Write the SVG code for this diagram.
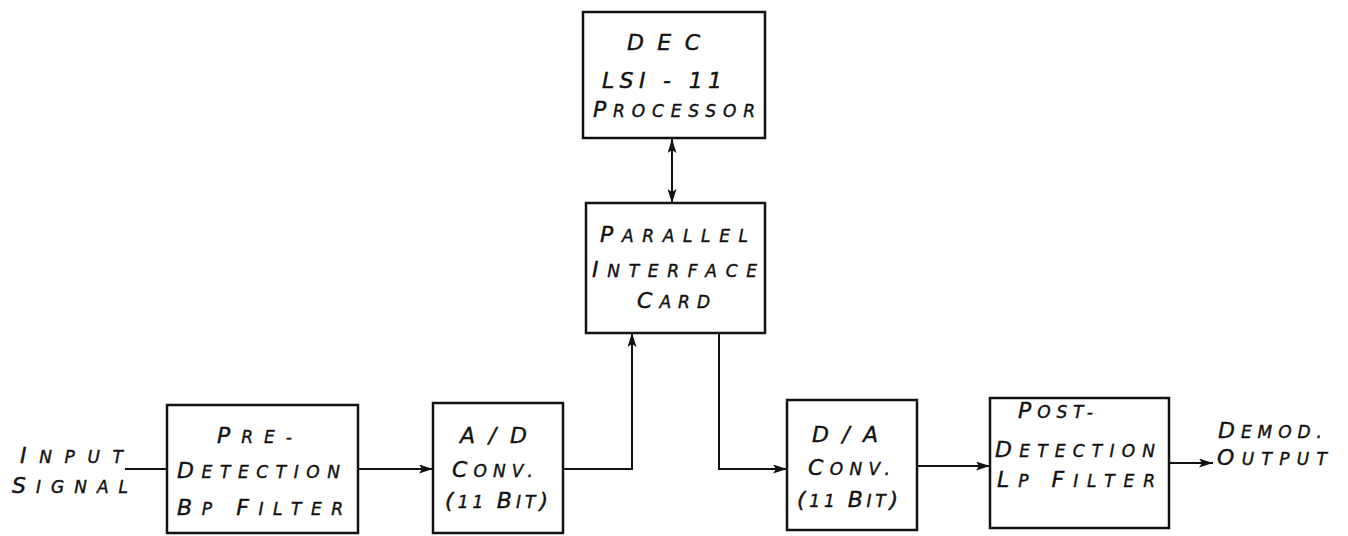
<svg xmlns="http://www.w3.org/2000/svg" width="1348" height="536" viewBox="0 0 1348 536">
<style>
.box{fill:#fff;stroke:#111;stroke-width:2.5}
.t{font-family:"DejaVu Sans","Liberation Sans",sans-serif;font-style:oblique;font-size:17px;fill:#111;stroke:#111;stroke-width:0.4}
.b{font-size:22px}
.c{fill:none;stroke:#111;stroke-width:2}
</style>
<defs>
<marker id="ah" markerUnits="userSpaceOnUse" markerWidth="14" markerHeight="9" refX="14" refY="4.5" orient="auto-start-reverse">
<path d="M0,0 L14,4.5 L0,9 L3,4.5 z" fill="#111"/>
</marker>
</defs>
<rect width="1348" height="536" fill="#fff"/>
<g id="connectors">
<line class="c" x1="672" y1="139" x2="672" y2="203" marker-start="url(#ah)" marker-end="url(#ah)"/>
<line class="c" x1="125" y1="469" x2="167" y2="469"/>
<line class="c" x1="358" y1="469" x2="433" y2="469" marker-end="url(#ah)"/>
<path class="c" d="M563,469 H632 V333" marker-end="url(#ah)"/>
<path class="c" d="M719,333 V469 H787" marker-end="url(#ah)"/>
<line class="c" x1="917" y1="466" x2="990" y2="466" marker-end="url(#ah)"/>
<line class="c" x1="1169" y1="463" x2="1213" y2="463" marker-end="url(#ah)"/>
</g>
<g id="dec">
<rect class="box" x="583" y="12" width="182" height="126"/>
<text class="t b" x="627" y="50" textLength="73" lengthAdjust="spacing">DEC</text>
<text class="t b" x="602" y="88" textLength="120" lengthAdjust="spacing">LSI - 11</text>
<text class="t" x="593" y="117" textLength="162" lengthAdjust="spacing"><tspan class="b">P</tspan>ROCESSOR</text>
</g>
<g id="pic">
<rect class="box" x="586" y="203" width="179" height="130"/>
<text class="t" x="600" y="242" textLength="148" lengthAdjust="spacing"><tspan class="b">P</tspan>ARALLEL</text>
<text class="t" x="592" y="277" textLength="165" lengthAdjust="spacing"><tspan class="b">I</tspan>NTERFACE</text>
<text class="t" x="637" y="308" textLength="73" lengthAdjust="spacing"><tspan class="b">C</tspan>ARD</text>
</g>
<g id="input">
<text class="t" x="20" y="463" textLength="103" lengthAdjust="spacing"><tspan class="b">I</tspan>NPUT</text>
<text class="t" x="12" y="493" textLength="116" lengthAdjust="spacing"><tspan class="b">S</tspan>IGNAL</text>
</g>
<g id="predet">
<rect class="box" x="167" y="405" width="191" height="128"/>
<text class="t" x="217" y="443" textLength="75" lengthAdjust="spacing"><tspan class="b">P</tspan>RE-</text>
<text class="t" x="177" y="478" textLength="163" lengthAdjust="spacing"><tspan class="b">D</tspan>ETECTION</text>
<text class="t" x="177" y="515" textLength="166" lengthAdjust="spacing"><tspan class="b">B</tspan>P <tspan class="b">F</tspan>ILTER</text>
</g>
<g id="adc">
<rect class="box" x="433" y="403" width="130" height="130"/>
<text class="t b" x="460" y="443" textLength="67" lengthAdjust="spacing">A/D</text>
<text class="t" x="452" y="477" textLength="81" lengthAdjust="spacing"><tspan class="b">C</tspan>ONV.</text>
<text class="t" x="445" y="508" textLength="103" lengthAdjust="spacing"><tspan class="b">(</tspan>11 <tspan class="b">B</tspan>IT<tspan class="b">)</tspan></text>
</g>
<g id="dac">
<rect class="box" x="787" y="400" width="130" height="130"/>
<text class="t b" x="812" y="442" textLength="66" lengthAdjust="spacing">D/A</text>
<text class="t" x="808" y="475" textLength="82" lengthAdjust="spacing"><tspan class="b">C</tspan>ONV.</text>
<text class="t" x="797" y="507" textLength="101" lengthAdjust="spacing"><tspan class="b">(</tspan>11 <tspan class="b">B</tspan>IT<tspan class="b">)</tspan></text>
</g>
<g id="postdet">
<rect class="box" x="990" y="398" width="179" height="130"/>
<text class="t" x="1018" y="418" textLength="75" lengthAdjust="spacing"><tspan class="b">P</tspan>OST-</text>
<text class="t" x="995" y="457" textLength="160" lengthAdjust="spacing"><tspan class="b">D</tspan>ETECTION</text>
<text class="t" x="997" y="487" textLength="158" lengthAdjust="spacing"><tspan class="b">L</tspan>P <tspan class="b">F</tspan>ILTER</text>
</g>
<g id="output">
<text class="t" x="1218" y="438" textLength="104" lengthAdjust="spacing"><tspan class="b">D</tspan>EMOD.</text>
<text class="t" x="1217" y="465" textLength="110" lengthAdjust="spacing"><tspan class="b">O</tspan>UTPUT</text>
</g>
</svg>
